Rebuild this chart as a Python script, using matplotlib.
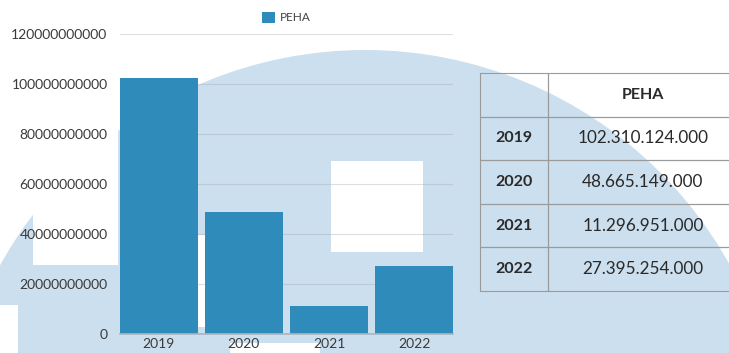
import matplotlib.pyplot as plt
from matplotlib.patches import Circle, Rectangle

years = ["2019", "2020", "2021", "2022"]
peha = [102310124000, 48665149000, 11296951000, 27395254000]
peha_text = ["102.310.124.000", "48.665.149.000", "11.296.951.000", "27.395.254.000"]
series_name = "PEHA"
y_ticks = [0, 20000000000, 40000000000, 60000000000, 80000000000,
           100000000000, 120000000000]

bar_color = "#2e8bba"
blob_color = "#ccdfee"
W, H = 729, 353

plt.rcParams["font.family"] = ["Lato", "DejaVu Sans"]

fig = plt.figure(figsize=(W / 100, H / 100), dpi=100)

# decorative background, in pixel units
bg = fig.add_axes([0, 0, 1, 1], zorder=-1)
bg.set_xlim(0, W)
bg.set_ylim(H, 0)
bg.axis("off")
bg.add_patch(Circle((365, 467), 417, color=blob_color, lw=0))
for x0, y0, x1, y1 in [(33, 0, 118, 265), (120, 235, 205, 327),
                       (331, 161, 423, 252), (230, 343, 320, 353),
                       (0, 305, 18, 353)]:
    bg.add_patch(Rectangle((x0, y0), x1 - x0, y1 - y0, color="white", lw=0))

# bar chart
ax = fig.add_axes([120 / W, (H - 334) / H, (453 - 120) / W, 300 / H])
ax.patch.set_alpha(0)
ax.bar(years, peha, width=0.91, color=bar_color, label=series_name, zorder=2)
ax.set_xlim(-0.455, 3.455)
ax.set_ylim(0, 120000000000)
ax.set_yticks(y_ticks)
ax.set_yticklabels([str(v) for v in y_ticks])
for v in y_ticks[1:]:
    ax.axhline(v, color="#9aa5b0", lw=0.8, alpha=0.35, zorder=1)
for s in ["top", "right", "left"]:
    ax.spines[s].set_visible(False)
ax.spines["bottom"].set_color("#aab4bd")
ax.spines["bottom"].set_linewidth(1.2)
ax.tick_params(axis="both", length=0, labelsize=10, colors="#3a3a3a")
ax.tick_params(axis="y", pad=9)
ax.tick_params(axis="x", pad=3)
ax.legend(loc="lower center", bbox_to_anchor=(0.5, 1.0), frameon=False,
          fontsize=8.5, handlelength=1.1, handleheight=1.1, handletextpad=0.4,
          labelcolor="#444444")

# table on the right
tx0, tx1, ty0, ty1 = 480, 738, 73, 291
tax = fig.add_axes([tx0 / W, (H - ty1) / H, (tx1 - tx0) / W, (ty1 - ty0) / H])
tax.axis("off")
cells = [["", series_name]] + [[y, t] for y, t in zip(years, peha_text)]
tbl = tax.table(cellText=cells, colWidths=[68 / 258, 190 / 258],
                cellLoc="center", bbox=[0, 0, 1, 1])
tbl.auto_set_font_size(False)
for (r, c), cell in tbl.get_celld().items():
    cell.set_facecolor("none")
    cell.set_edgecolor("#9a9a9a")
    cell.set_linewidth(0.8)
    txt = cell.get_text()
    txt.set_fontsize(12.3)
    txt.set_color("#2a2a2a")
    if r == 0 or c == 0:
        txt.set_fontweight("bold")
        txt.set_fontsize(11.5)

fig.savefig("out.png", dpi=100)
